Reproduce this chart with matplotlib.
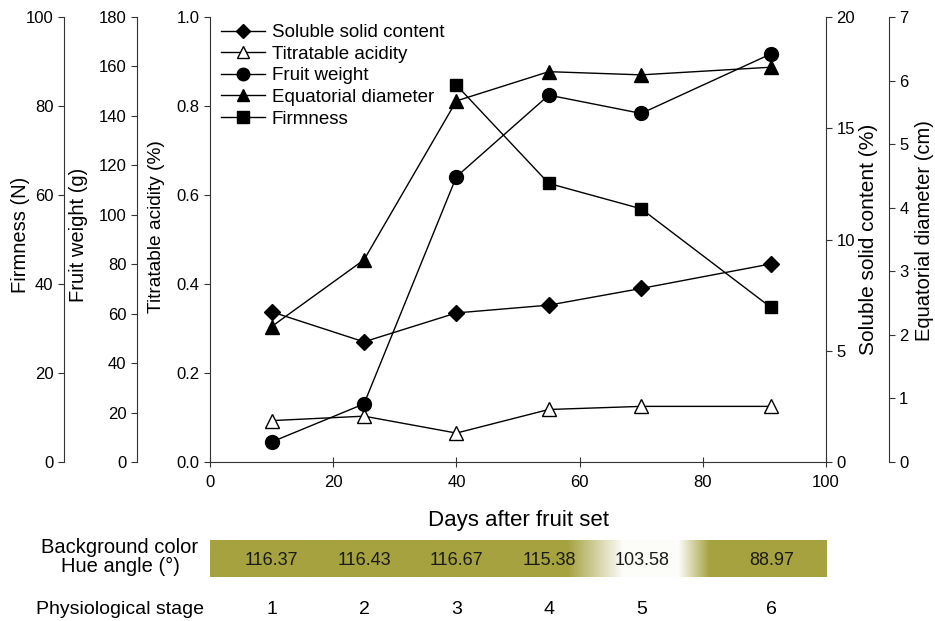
"""Fruit development: growth, quality traits and background colour by stage."""

import matplotlib.pyplot as plt
import numpy as np
from matplotlib.lines import Line2D
from matplotlib.transforms import blended_transform_factory

plt.rcParams["font.family"] = ["Liberation Sans", "DejaVu Sans"]

# sampling days after fruit set
dias = [10, 25, 40, 55, 70, 91]

# quality traits
ssc = [6.75, 5.4, 6.7, 7.05, 7.8, 8.9]          # soluble solid content (%)
acidez = [0.093, 0.103, 0.065, 0.118, 0.125, 0.125]  # titratable acidity (%)
peso = [8.1, 23.5, 115.4, 148.4, 141.0, 165.0]   # fruit weight (g)
diametro = [2.13, 3.18, 5.68, 6.14, 6.09, 6.21]  # equatorial diameter (cm)
dias_firmeza = [40, 55, 70, 91]
firmeza = [84.7, 62.6, 56.9, 34.8]               # firmness (N)

# background colour of each stage
hue = ["116.37", "116.43", "116.67", "115.38", "103.58", "88.97"]
estagios = ["1", "2", "3", "4", "5", "6"]

W, H = 935, 621
fig = plt.figure(figsize=(W / 100, H / 100), dpi=100)

eixo_cor = "#333333"
fs_tick = 12
fs_label = 14.5

ax = fig.add_axes([210 / W, 1 - 462 / H, 616 / W, 445 / H])
ax.patch.set_visible(False)
for lado in ("top", "right"):
    ax.spines[lado].set_visible(False)
for lado in ("left", "bottom"):
    ax.spines[lado].set_color(eixo_cor)
ax.set_xlim(0, 100)
ax.set_ylim(0, 1.0)
ax.set_xticks(np.arange(0, 101, 20))
ax.set_yticks(np.arange(0, 1.01, 0.2))
ax.yaxis.set_major_formatter(plt.FormatStrFormatter("%.1f"))
ax.tick_params(axis="x", direction="inout", length=7, labelsize=fs_tick,
               color=eixo_cor, pad=6)
ax.tick_params(axis="y", direction="out", length=4, labelsize=fs_tick,
               color=eixo_cor)
ax.set_xlabel("Days after fruit set", fontsize=16, labelpad=14)
ax.set_ylabel("Titratable acidity (%)", fontsize=13.8)
ax.yaxis.set_label_coords(-0.073, 0.53)


def eixo_extra(lado, posicao, limites, ticks):
    a = ax.twinx()
    for s in a.spines.values():
        s.set_visible(False)
    a.spines[lado].set_visible(True)
    a.spines[lado].set_position(("axes", posicao))
    a.spines[lado].set_color(eixo_cor)
    a.yaxis.set_ticks_position(lado)
    a.yaxis.set_label_position(lado)
    a.set_ylim(*limites)
    a.set_yticks(ticks)
    a.tick_params(axis="y", direction="out", length=4, labelsize=fs_tick,
                  color=eixo_cor)
    return a


ax_peso = eixo_extra("left", -0.1185, (0, 180), np.arange(0, 181, 20))
ax_peso.set_ylabel("Fruit weight (g)", fontsize=fs_label)
ax_peso.yaxis.set_label_coords(-0.198, 0.51)

ax_firm = eixo_extra("left", -0.237, (0, 100), np.arange(0, 101, 20))
ax_firm.set_ylabel("Firmness (N)", fontsize=fs_label)
ax_firm.yaxis.set_label_coords(-0.292, 0.51)

ax_ssc = eixo_extra("right", 1.0, (0, 20), np.arange(0, 21, 5))
ax_ssc.set_ylabel("Soluble solid content (%)", fontsize=15)
ax_ssc.yaxis.set_label_coords(1.054, 0.5)

ax_diam = eixo_extra("right", 1.102, (0, 7), np.arange(0, 8, 1))
ax_diam.set_ylabel("Equatorial diameter (cm)", fontsize=fs_label)
ax_diam.yaxis.set_label_coords(1.145, 0.52)

estilo = dict(color="black", linewidth=1.0, markeredgecolor="black", clip_on=False)
ax_ssc.plot(dias, ssc, marker="D", markersize=8, markerfacecolor="black", **estilo)
ax.plot(dias, acidez, marker="^", markersize=10, markerfacecolor="white", **estilo)
ax_peso.plot(dias, peso, marker="o", markersize=10, markerfacecolor="black", **estilo)
ax_diam.plot(dias, diametro, marker="^", markersize=10, markerfacecolor="black", **estilo)
ax_firm.plot(dias_firmeza, firmeza, marker="s", markersize=9,
             markerfacecolor="black", **estilo)

itens = [
    ("Soluble solid content", "D", "black", 7),
    ("Titratable acidity", "^", "white", 8),
    ("Fruit weight", "o", "black", 9),
    ("Equatorial diameter", "^", "black", 8.5),
    ("Firmness", "s", "black", 8),
]
alcas = [Line2D([], [], color="black", linewidth=1.0, marker=m, markersize=ms,
                markerfacecolor=fc, markeredgecolor="black")
         for _, m, fc, ms in itens]
ax_diam.legend(alcas, [t for t, *_ in itens], loc="upper left",
               bbox_to_anchor=(0.005, 1.001), frameon=False, fontsize=13.5,
               handlelength=2.35, handletextpad=0.37, labelspacing=0.24,
               borderaxespad=0)

# colour band with hue angle per stage
ax_faixa = fig.add_axes([210 / W, 1 - 577 / H, 617 / W, 37 / H])
ax_faixa.set_xlim(0, 100)
ax_faixa.set_ylim(0, 1)
ax_faixa.axis("off")
xs = np.linspace(0, 100, 600)
alfa = np.interp(xs, [0, 58, 67, 76, 81, 100], [1, 1, 0.03, 0.03, 1, 1])
rgba = np.zeros((1, xs.size, 4))
rgba[..., :3] = np.array([166, 162, 64]) / 255
rgba[..., 3] = alfa
ax_faixa.imshow(rgba, extent=[0, 100, 0, 1], aspect="auto",
                interpolation="bilinear")

for d, h in zip(dias, hue):
    ax_faixa.text(d, 0.45, h, ha="center", va="center", fontsize=13,
                  color="#1a1a1a")

trans = blended_transform_factory(ax_faixa.transData, fig.transFigure)
for d, e in zip(dias, estagios):
    ax_faixa.text(d, 1 - 609 / H, e, ha="center", va="center", fontsize=14,
                  transform=trans, clip_on=False)

fig.text(120 / W, 1 - 557 / H, "Background color\nHue angle (°)", ha="center",
         va="center", fontsize=14.5, linespacing=0.95)
fig.text(120 / W, 1 - 609 / H, "Physiological stage", ha="center",
         va="center", fontsize=14)

fig.savefig("out.png", dpi=100)
plt.close(fig)
